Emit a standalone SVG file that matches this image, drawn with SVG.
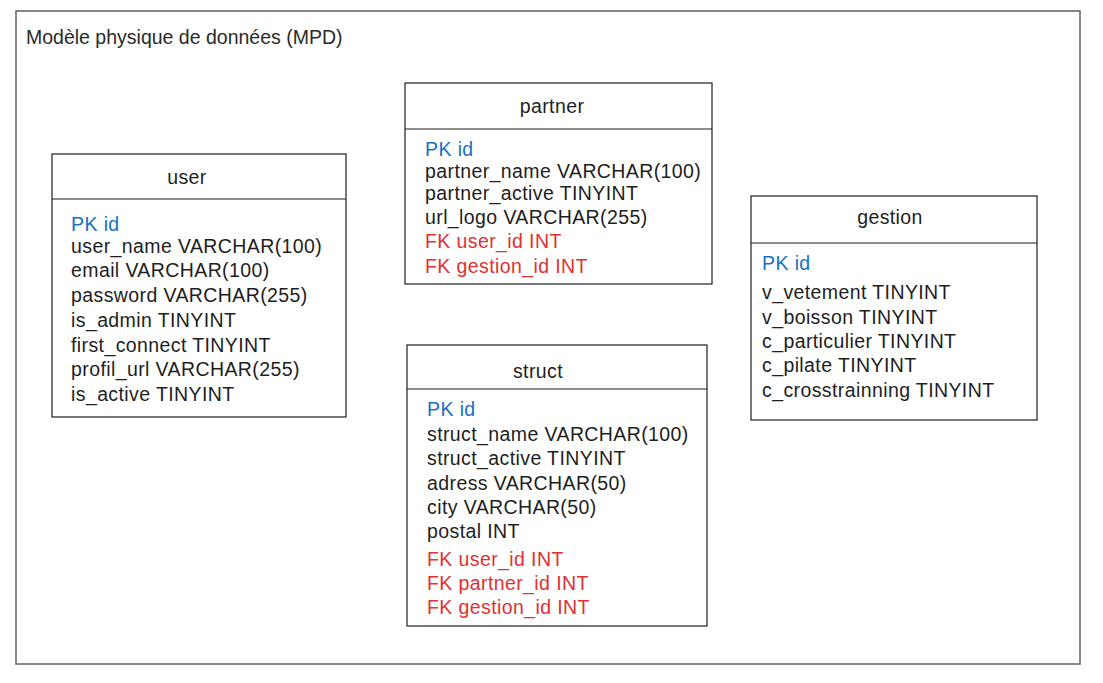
<svg xmlns="http://www.w3.org/2000/svg" width="1103" height="683" viewBox="0 0 1103 683">
<style>
.frame{fill:#fff;stroke:#6a6a6a;stroke-width:1.6}
.box{fill:#fff;stroke:#1e1e1e;stroke-width:1.2}
.div{stroke:#1e1e1e;stroke-width:1.2}
.t{font-family:"Liberation Sans",Arial,sans-serif;font-size:19.5px;letter-spacing:0.4px;fill:#1e1e1e}
.h{text-anchor:middle}
.pk{fill:#1971c2}
.fk{fill:#e03131}
.title{font-family:"Liberation Sans",Arial,sans-serif;font-size:19.5px;fill:#2a2a2a}
</style>
<rect width="1103" height="683" fill="#fff"/>
<rect class="frame" x="16" y="11" width="1064" height="653"/>
<text class="title" x="26" y="44">Modèle physique de données (MPD)</text>
<g id="connectors"></g>
<g id="user">
<rect class="box" x="52" y="154" width="294" height="263"/>
<line class="div" x1="52" y1="199" x2="346" y2="199"/>
<text class="t h" x="187" y="184">user</text>
<text class="t pk" x="71" y="231">PK id</text>
<text class="t" x="71" y="253">user_name VARCHAR(100)</text>
<text class="t" x="71" y="277">email VARCHAR(100)</text>
<text class="t" x="71" y="302">password VARCHAR(255)</text>
<text class="t" x="71" y="327">is_admin TINYINT</text>
<text class="t" x="71" y="352">first_connect TINYINT</text>
<text class="t" x="71" y="376">profil_url VARCHAR(255)</text>
<text class="t" x="71" y="401">is_active TINYINT</text>
</g>
<g id="partner">
<rect class="box" x="405" y="83" width="307" height="201"/>
<line class="div" x1="405" y1="129" x2="712" y2="129"/>
<text class="t h" x="552" y="113">partner</text>
<text class="t pk" x="425" y="156">PK id</text>
<text class="t" x="425" y="178">partner_name VARCHAR(100)</text>
<text class="t" x="425" y="200">partner_active TINYINT</text>
<text class="t" x="425" y="224">url_logo VARCHAR(255)</text>
<text class="t fk" x="425" y="248">FK user_id INT</text>
<text class="t fk" x="425" y="273">FK gestion_id INT</text>
</g>
<g id="struct">
<rect class="box" x="407" y="345" width="300" height="281"/>
<line class="div" x1="407" y1="389" x2="707" y2="389"/>
<text class="t h" x="538" y="378">struct</text>
<text class="t pk" x="427" y="416">PK id</text>
<text class="t" x="427" y="441">struct_name VARCHAR(100)</text>
<text class="t" x="427" y="465">struct_active TINYINT</text>
<text class="t" x="427" y="490">adress VARCHAR(50)</text>
<text class="t" x="427" y="514">city VARCHAR(50)</text>
<text class="t" x="427" y="538">postal INT</text>
<text class="t fk" x="427" y="566">FK user_id INT</text>
<text class="t fk" x="427" y="590">FK partner_id INT</text>
<text class="t fk" x="427" y="614">FK gestion_id INT</text>
</g>
<g id="gestion">
<rect class="box" x="751" y="196" width="286" height="224"/>
<line class="div" x1="751" y1="243" x2="1037" y2="243"/>
<text class="t h" x="890" y="224">gestion</text>
<text class="t pk" x="762" y="270">PK id</text>
<text class="t" x="762" y="299">v_vetement TINYINT</text>
<text class="t" x="762" y="324">v_boisson TINYINT</text>
<text class="t" x="762" y="348">c_particulier TINYINT</text>
<text class="t" x="762" y="372">c_pilate TINYINT</text>
<text class="t" x="762" y="397">c_crosstrainning TINYINT</text>
</g>
</svg>
